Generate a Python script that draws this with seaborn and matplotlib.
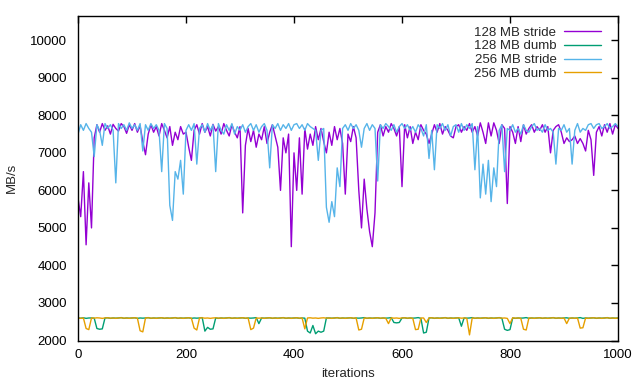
import numpy as np
import pandas as pd
import matplotlib
matplotlib.use("Agg")
import matplotlib.pyplot as plt
import seaborn as sns

iterations = list(range(0, 1001, 5))

stride_128 = [
    5800, 5300, 6500, 4550, 6200, 5000, 7400,
    7750, 7550, 7780, 7600, 7720, 7500, 7760, 7650, 7580, 7780,
    7700, 7520, 7750, 7600, 7780, 7550, 7720,
    7300, 6950, 7500, 7750, 7550, 7700, 7450, 7780, 7600, 7400,
    7700, 7200, 7550, 7350, 7700, 7500, 7550,
    7150, 6800, 7600, 7750, 7500, 7780, 7550, 7700, 7450, 7760,
    7580, 7700, 7500, 7780, 7600, 7450, 7750, 7550, 7400, 7700,
    5400, 7200, 7650, 7300, 7600, 7150, 7500, 7350, 7700, 7250,
    7550, 7750, 7450, 7150, 6000, 7400, 7000, 7500, 4500, 7000,
    6000, 7400, 5900, 7650, 7100, 7500, 7200, 7700, 7350, 7650,
    7300, 7000, 7550, 7200, 7700, 7350, 7650, 7250, 5900, 7500,
    7300, 7700, 7400, 6000, 5000, 6300, 5500, 4900, 4500, 5400,
    7550, 7750, 7450, 7700, 7550, 7780, 7650, 7450, 7700, 6100,
    7750, 7400, 7700, 7250, 7550, 7350, 7750, 7600, 7500, 7250,
    7500, 7750, 7550, 7780, 7500, 7700, 7600, 7450, 7400, 7700,
    7750, 7550, 7700, 7600, 7780, 7550, 7700, 7450, 7800, 7550,
    7250, 7800, 7450, 7800, 7600, 7250, 7750, 7650, 5650, 7700,
    7550, 7250, 7700, 7300, 7750, 7500, 7650, 7750, 7550, 7700,
    7600, 7750, 7550, 7700, 7000, 7600, 7700, 7750, 7550, 7250,
    7400, 7300, 7350, 7450, 7250, 7380, 7250, 7050, 7600, 7350,
    6400, 7550, 7700, 7450, 7750, 7550, 7780, 7500, 7750, 7650,
]

stride_256 = [
    7500, 7750, 7600, 7780, 7650, 7550, 6900,
    7750, 7600, 7200, 7780, 7650, 7750, 7600, 6200, 7780, 7650,
    7750, 7600, 7800, 7650, 7750, 7600, 7780,
    7050, 7750, 7600, 7780, 7650, 7750, 7600, 6500, 7780, 7650,
    5600, 5200, 6500, 6300, 6800, 5900, 7600,
    7750, 7600, 7780, 6700, 7650, 7750, 7550, 7780, 7600, 7750,
    6500, 7780, 7600, 7500, 7750, 7600, 7780, 7500, 7700, 7600,
    7750, 7550, 7700, 7780, 7600, 7750, 7550, 7700, 7780, 7600,
    6600, 7750, 7650, 7780, 7600, 7750, 7650, 7780, 7600, 7750,
    7780, 7650, 7750, 7600, 7780, 7700, 7650, 7600, 6800, 7600,
    7650, 5550, 5150, 5700, 5300, 6600, 6100, 7650, 7750, 7600,
    7780, 7650, 7750, 7600, 7150, 7650, 7780, 7600, 7750, 7650,
    6250, 7750, 7650, 7780, 7700, 7600, 7750, 7550, 7700, 7780,
    7650, 7750, 7600, 7700, 7550, 7750, 7650, 7450, 7750, 6850,
    7600, 6550, 7750, 7650, 7780, 7600, 7750, 7450, 7700, 7750,
    7550, 7780, 7600, 7750, 7650, 7780, 6550, 7700, 5800, 6700,
    5900, 6800, 5700, 6600, 6100, 7600, 7750, 6500, 7650, 7600,
    7750, 7550, 7650, 7500, 7750, 7600, 7550, 7700, 7780, 7600,
    7650, 7550, 7750, 7600, 7650, 7550, 6700, 7650, 7600, 7750,
    7550, 7650, 6700, 7600, 7780, 7550, 7650, 7600, 7750, 7780,
    7650, 7750, 7780, 7650, 7700, 7780, 7650, 7700, 7780, 7700,
]

dumb_128 = [
    2600, 2595, 2605, 2590, 2600, 2600, 2595, 2320, 2300, 2310,
    2600, 2605, 2590, 2600, 2595, 2600, 2610, 2590, 2600, 2595,
    2600, 2605, 2590, 2600, 2595, 2600, 2610, 2590, 2600, 2595,
    2600, 2605, 2590, 2600, 2595, 2600, 2610, 2590, 2600, 2595,
    2600, 2605, 2590, 2600, 2595, 2600, 2610, 2250, 2350, 2300,
    2310, 2600, 2590, 2600, 2595, 2600, 2610, 2590, 2600, 2595,
    2600, 2605, 2590, 2600, 2595, 2600, 2610, 2450, 2600, 2595,
    2600, 2605, 2590, 2600, 2595, 2600, 2610, 2590, 2600, 2595,
    2600, 2605, 2590, 2600, 2595, 2250, 2200, 2400, 2180, 2250,
    2220, 2250, 2600, 2600, 2595, 2600, 2610, 2590, 2600, 2595,
    2600, 2605, 2590, 2600, 2595, 2600, 2610, 2590, 2600, 2595,
    2600, 2605, 2590, 2600, 2595, 2600, 2610, 2480, 2470, 2480,
    2600, 2605, 2590, 2600, 2595, 2600, 2610, 2590, 2200, 2220,
    2600, 2605, 2590, 2600, 2595, 2600, 2610, 2590, 2600, 2595,
    2600, 2605, 2380, 2600, 2595, 2600, 2610, 2590, 2600, 2595,
    2600, 2605, 2590, 2600, 2595, 2600, 2610, 2590, 2300, 2270,
    2290, 2600, 2590, 2600, 2595, 2600, 2610, 2590, 2600, 2595,
    2600, 2605, 2590, 2600, 2595, 2600, 2610, 2590, 2600, 2595,
    2600, 2605, 2590, 2600, 2595, 2600, 2610, 2590, 2600, 2595,
    2600, 2605, 2590, 2600, 2595, 2600, 2610, 2590, 2600, 2595,
    2600,
]

dumb_256 = [
    2600, 2590, 2600, 2320, 2290, 2600, 2595, 2605, 2600, 2590,
    2600, 2605, 2595, 2600, 2590, 2600, 2605, 2595, 2600, 2590,
    2600, 2605, 2595, 2260, 2230, 2600, 2605, 2595, 2600, 2590,
    2600, 2605, 2595, 2600, 2590, 2600, 2605, 2595, 2600, 2590,
    2600, 2605, 2595, 2330, 2280, 2600, 2605, 2595, 2600, 2590,
    2600, 2605, 2595, 2600, 2590, 2600, 2605, 2595, 2600, 2590,
    2600, 2605, 2595, 2600, 2290, 2330, 2600, 2595, 2600, 2590,
    2600, 2605, 2595, 2600, 2590, 2600, 2605, 2595, 2600, 2590,
    2600, 2605, 2595, 2600, 2310, 2600, 2605, 2595, 2600, 2590,
    2600, 2605, 2595, 2600, 2590, 2600, 2605, 2595, 2600, 2590,
    2600, 2605, 2595, 2600, 2280, 2300, 2600, 2595, 2600, 2590,
    2600, 2605, 2595, 2600, 2590, 2450, 2605, 2595, 2600, 2590,
    2600, 2605, 2595, 2600, 2590, 2290, 2300, 2600, 2600, 2480,
    2600, 2605, 2595, 2600, 2590, 2600, 2605, 2595, 2600, 2590,
    2600, 2605, 2595, 2600, 2590, 2150, 2600, 2595, 2600, 2590,
    2600, 2605, 2595, 2600, 2590, 2600, 2605, 2595, 2600, 2590,
    2450, 2605, 2595, 2600, 2590, 2300, 2280, 2600, 2600, 2590,
    2600, 2605, 2595, 2600, 2590, 2600, 2605, 2595, 2600, 2590,
    2600, 2450, 2595, 2600, 2590, 2600, 2330, 2340, 2600, 2590,
    2600, 2605, 2595, 2600, 2590, 2600, 2605, 2595, 2600, 2590,
    2600,
]

labels = ["128 MB stride", "128 MB dumb", "256 MB stride", "256 MB dumb"]
colors = ["#9400D3", "#009E73", "#56B4E9", "#E69F00"]
x_ticks = [0, 200, 400, 600, 800, 1000]
y_ticks = [2000, 3000, 4000, 5000, 6000, 7000, 8000, 9000, 10000]

series = [stride_128, dumb_128, stride_256, dumb_256]
frames = []
for lab, vals in zip(labels, series):
    frames.append(pd.DataFrame({"iterations": iterations, "MB/s": vals, "series": lab}))
df = pd.concat(frames, ignore_index=True)

sns.set_style("white")
plt.rcParams["font.family"] = ["Liberation Sans", "DejaVu Sans"]

fig = plt.figure(figsize=(6.4, 3.84), dpi=100)
ax = fig.add_axes([78 / 640, 1 - 340.5 / 384, 540 / 640, 325 / 384])

sns.lineplot(data=df, x="iterations", y="MB/s", hue="series", hue_order=labels,
             palette=colors, linewidth=1.0, estimator=None, sort=False, ax=ax)

ax.set_xlim(0, 1000)
ax.set_ylim(2000, 10660)
ax.set_xticks(x_ticks)
ax.set_yticks(y_ticks)
ax.tick_params(direction="in", length=5, width=1, top=True, right=True,
               labelsize=9.5, colors="black")
ax.tick_params(axis="y", pad=8)
ax.tick_params(axis="x", pad=6)
for s in ax.spines.values():
    s.set_color("black")
    s.set_linewidth(1)
ax.set_xlabel("iterations", fontsize=9.5)
ax.set_ylabel("MB/s", fontsize=9.5)
ax.yaxis.set_label_coords(-0.112, 0.5)
ax.xaxis.set_label_coords(0.5, -0.085)

handles, labs = ax.get_legend_handles_labels()
leg = ax.legend(handles, labs, loc="upper right", bbox_to_anchor=(0.985, 0.995),
                frameon=False, markerfirst=False, fontsize=9.5, handlelength=2.8,
                labelspacing=0.12, handletextpad=0.55, borderpad=0.2)
for t in leg.get_texts():
    t.set_ha("right")
leg._legend_box.align = "right"

fig.savefig("out.png", dpi=100)
